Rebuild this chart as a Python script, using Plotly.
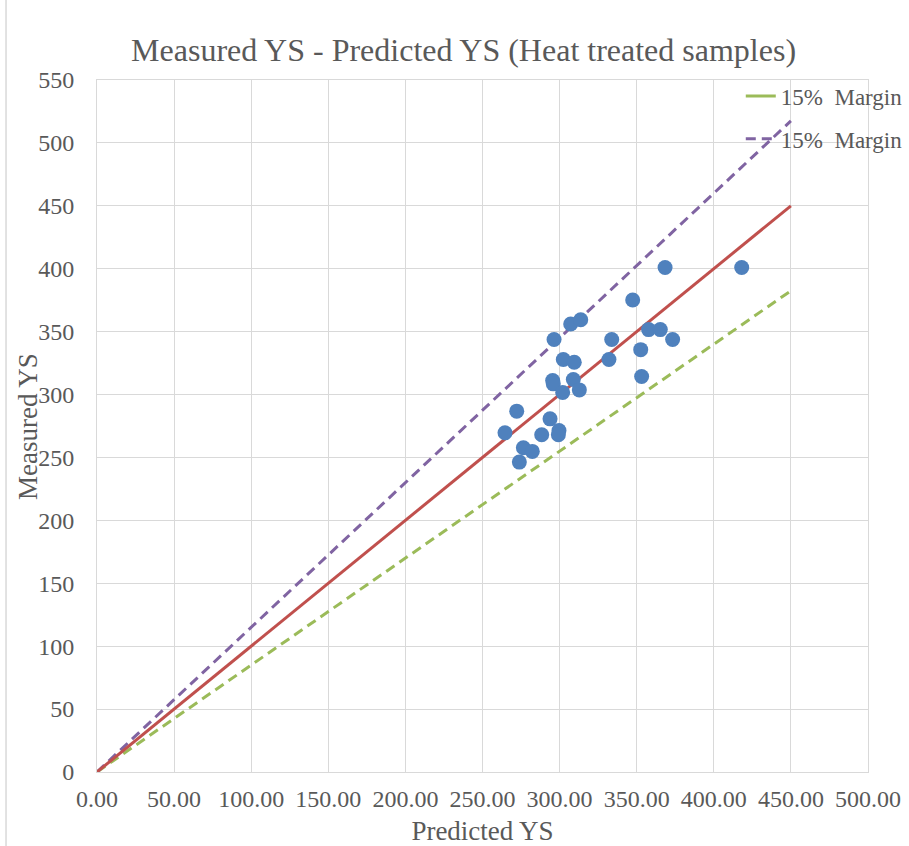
import plotly.graph_objects as go

# ---- data ----
predicted_ys = [347.4, 307.2, 313.7, 296.4, 333.8, 357.7, 365.3, 373.3, 302.4, 309.5,
                332.0, 352.6, 295.5, 295.9, 308.9, 302.0, 312.8, 353.2, 272.2, 264.6,
                293.8, 288.4, 299.6, 299.2, 276.5, 282.3, 273.9, 368.4, 418.1]
measured_ys = [375.2, 356.1, 359.5, 343.7, 343.7, 351.6, 351.6, 343.7, 327.8, 325.7,
               327.8, 335.7, 311.1, 308.5, 311.9, 301.7, 303.7, 314.4, 286.8, 269.6,
               280.7, 268.0, 271.4, 268.0, 257.7, 254.8, 246.3, 401.0, 401.0]

line_x = [0, 450]
ideal_y = [0, 450]
upper_y = [0, 517.5]   # +15 %
lower_y = [0, 382.5]   # -15 %

legend_name = "15%\u00a0 Margin"
x_ticks = [0, 50, 100, 150, 200, 250, 300, 350, 400, 450, 500]
y_ticks = [0, 50, 100, 150, 200, 250, 300, 350, 400, 450, 500, 550]

SERIF = "Liberation Serif, Times New Roman, serif"
TXT = "#595959"
GRID = "#D9D9D9"

fig = go.Figure()

fig.add_trace(go.Scatter(x=line_x, y=lower_y, mode="lines",
                         line=dict(color="#9BBB59", width=3, dash="10px,6px"),
                         showlegend=False, hoverinfo="skip"))
fig.add_trace(go.Scatter(x=line_x, y=upper_y, mode="lines",
                         line=dict(color="#8064A2", width=3, dash="10px,6px"),
                         name=legend_name, legend="legend2"))
fig.add_trace(go.Scatter(x=line_x, y=ideal_y, mode="lines",
                         line=dict(color="#C0504D", width=3),
                         showlegend=False))
fig.add_trace(go.Scatter(x=predicted_ys, y=measured_ys, mode="markers",
                         marker=dict(color="#4F81BD", size=15),
                         showlegend=False))
# legend entry for the lower margin (solid sample like the original)
fig.add_trace(go.Scatter(x=[None], y=[None], mode="lines",
                         line=dict(color="#9BBB59", width=3),
                         name=legend_name, legend="legend"))

fig.update_layout(
    width=909, height=846,
    paper_bgcolor="white", plot_bgcolor="white",
    margin=dict(l=97, r=41, t=80, b=74, autoexpand=False),
    font=dict(family=SERIF, color=TXT, size=24),
    title=dict(text="Measured YS - Predicted YS (Heat treated samples)",
               x=0.51, xanchor="center", y=0.941, yanchor="middle",
               font=dict(family=SERIF, size=32, color=TXT)),
    legend=dict(x=0.835, y=1.008, xanchor="left", yanchor="top",
                bgcolor="rgba(0,0,0,0)", font=dict(family=SERIF, size=23, color=TXT)),
    legend2=dict(x=0.835, y=0.946, xanchor="left", yanchor="top",
                 bgcolor="rgba(0,0,0,0)", font=dict(family=SERIF, size=23, color=TXT)),
    xaxis=dict(range=[0, 500], tickvals=x_ticks, tickformat=".2f",
               showgrid=True, gridcolor=GRID, gridwidth=1,
               zeroline=False, showline=True, linecolor=GRID, mirror=True,
               ticks="", ticklabelstandoff=5, tickfont=dict(size=24), automargin=False,
               title=dict(text="Predicted YS", standoff=10,
                          font=dict(family=SERIF, size=27, color=TXT))),
    yaxis=dict(range=[0, 550], tickvals=y_ticks,
               showgrid=True, gridcolor=GRID, gridwidth=1,
               zeroline=False, showline=True, linecolor=GRID, mirror=True,
               ticks="", ticklabelstandoff=17, tickfont=dict(size=24), automargin=False),
    annotations=[dict(text="Measured YS", textangle=-90, xref="paper", yref="paper",
                      x=-0.0895, y=0.5, xanchor="center", yanchor="middle",
                      showarrow=False, font=dict(family=SERIF, size=27, color=TXT))],
    shapes=[dict(type="line", xref="paper", yref="paper",
                 x0=-0.118, x1=-0.118, y0=-0.2, y1=1.2,
                 line=dict(color=GRID, width=1.5))],
)

fig.write_html("out.html", config={"displayModeBar": False},
               post_script="document.body.style.margin='0';document.body.style.padding='0';")
